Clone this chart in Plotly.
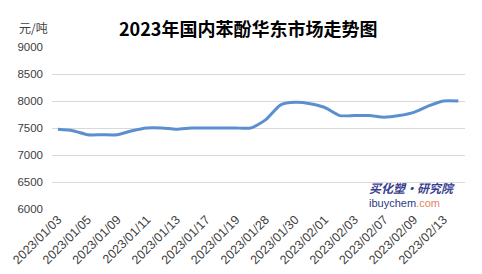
import plotly.graph_objects as go

dates = ["2023/01/03", "2023/01/04", "2023/01/05", "2023/01/06", "2023/01/09", "2023/01/10",
         "2023/01/11", "2023/01/12", "2023/01/13", "2023/01/16", "2023/01/17", "2023/01/18",
         "2023/01/19", "2023/01/20", "2023/01/28", "2023/01/29", "2023/01/30", "2023/01/31",
         "2023/02/01", "2023/02/02", "2023/02/03", "2023/02/06", "2023/02/07", "2023/02/08",
         "2023/02/09", "2023/02/10", "2023/02/13", "2023/02/14"]
prices = [7475, 7450, 7375, 7375, 7375, 7450, 7500, 7500, 7475, 7500, 7500, 7500,
          7500, 7500, 7650, 7925, 7975, 7950, 7880, 7730, 7730, 7730, 7700, 7730,
          7790, 7910, 8000, 8000]
tick_labels = dates[::2]
y_ticks = [6000, 6500, 7000, 7500, 8000, 8500, 9000]

fig = go.Figure()
fig.add_trace(go.Scatter(
    x=dates, y=prices, mode="lines",
    line=dict(color="#5B8FD0", width=3, shape="spline", smoothing=0.6),
    hoverinfo="skip"))

fig.update_layout(
    width=482, height=274,
    margin=dict(l=52, r=17, t=47, b=65),
    paper_bgcolor="white", plot_bgcolor="white",
    showlegend=False,
    font=dict(family="Noto Sans CJK SC, Liberation Sans, sans-serif", color="#404040", size=11),
    title=dict(text="<b>2023年国内苯酚华东市场走势图</b>", x=0.515, xanchor="center",
               y=0.89, yanchor="middle",
               font=dict(size=18, color="#000000", family="Noto Sans CJK SC")),
    xaxis=dict(type="category", categoryorder="array", categoryarray=dates,
               tickmode="array", tickvals=tick_labels, ticktext=tick_labels,
               tickangle=-45, showgrid=False, showline=False, ticks="",
               range=[-0.4, 27.45], automargin=False,
               tickfont=dict(size=12.5, color="#404040", family="Liberation Sans")),
    yaxis=dict(range=[6000, 9000], tickmode="array", tickvals=y_ticks,
               showgrid=True, gridcolor="#D9D9D9", gridwidth=1, automargin=False,
               zeroline=False, showline=False, ticks="", ticklabelstandoff=8,
               tickfont=dict(size=11.5, color="#404040", family="Liberation Sans")),
)

fig.add_annotation(text="元/吨", xref="paper", yref="paper", x=-0.085, y=1.12,
                   xanchor="left", yanchor="middle", showarrow=False,
                   font=dict(size=12, color="#404040", family="Noto Sans CJK SC"))

fig.add_annotation(text="<b><i>买化塑·研究院</i></b>", xref="paper", yref="paper",
                   x=0.762, y=0.13, xanchor="left", yanchor="middle", showarrow=False,
                   font=dict(size=12, color="#3B3F8F", family="Noto Sans CJK SC"))
fig.add_annotation(text="<span style='color:#2E3A80'>ibuychem</span><span style='color:#E8845A'>.com</span>",
                   xref="paper", yref="paper",
                   x=0.762, y=0.037, xanchor="left", yanchor="middle", showarrow=False,
                   font=dict(size=11, family="Liberation Sans"))

fig.write_html("out.html")
